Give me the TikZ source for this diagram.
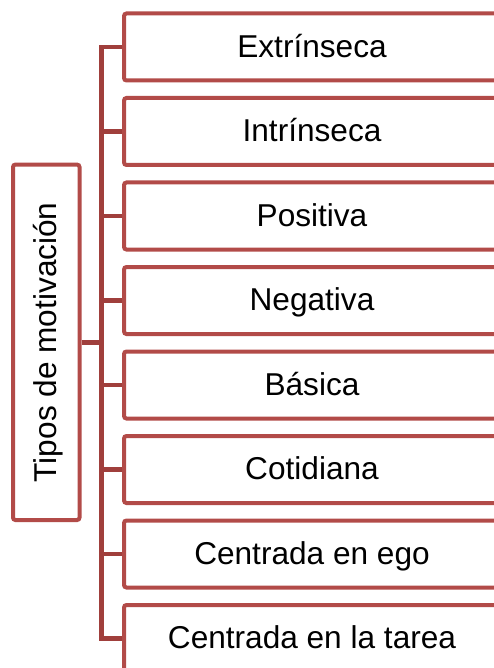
\documentclass[tikz,border=0pt]{standalone}
\usepackage{fontspec}
\setmainfont{Liberation Sans}
\usetikzlibrary{positioning}
\definecolor{boxred}{RGB}{178,75,72}
\definecolor{linkred}{RGB}{160,63,60}
\tikzset{
  tipo/.style={draw=boxred, line width=4pt, rounded corners=2.5pt, minimum width=376pt, minimum height=67pt, inner sep=0pt, text height=22.6pt, text depth=2.2pt},
  rama/.style={draw=linkred, line width=4.5pt}
}
\begin{document}
\begin{tikzpicture}[x=1pt,y=-1pt,font=\fontsize{31.6}{38}\selectfont]
        \useasboundingbox (0,0) rectangle (494,668);
        \clip (0,0) rectangle (494,668);

        \node[tipo] (ext) at (312,47) {Extrínseca};
        \node[tipo, below of=ext, node distance=84.5pt] (int) {Intrínseca};
        \node[tipo, below of=int, node distance=84.5pt] (pos) {Positiva};
        \node[tipo, below of=pos, node distance=84.5pt] (neg) {Negativa};
        \node[tipo, below of=neg, node distance=84.5pt] (bas) {Básica};
        \node[tipo, below of=bas, node distance=84.5pt] (cot) {Cotidiana};
        \node[tipo, below of=cot, node distance=84.5pt] (ego) {Centrada en ego};
        \node[tipo, below of=ego, node distance=84.5pt] (tarea) {Centrada en la tarea};

        \node[tipo, minimum width=355.5pt, minimum height=66.5pt, rotate=90] (tipos) at (46.25,342.3) {Tipos de motivación};

        \coordinate (tronco) at (101.7,0);
        \draw[rama] (ext.west) -- (ext.west -| tronco) -- (tarea.west -| tronco) -- (tarea.west);
        \foreach \n in {int,pos,neg,bas,cot,ego}
            \draw[rama] (\n.west) -- (\n.west -| tronco);
        \draw[rama] (tipos.south) -- (tipos.south -| tronco);
    \end{tikzpicture}
\end{document}
